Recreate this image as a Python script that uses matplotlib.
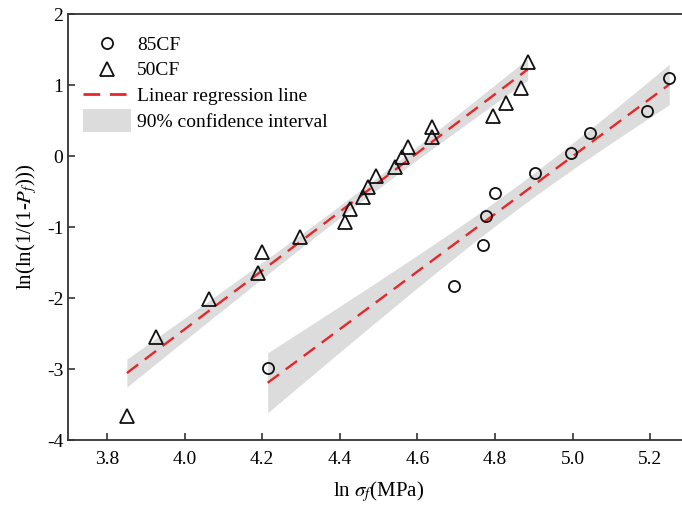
import numpy as np
import matplotlib
matplotlib.use('Agg')
import matplotlib.pyplot as plt
from matplotlib.patches import Rectangle
from matplotlib.legend_handler import HandlerPatch

plt.rcParams['font.family'] = 'Liberation Serif'
plt.rcParams['mathtext.fontset'] = 'stix'
plt.rcParams['font.size'] = 14
plt.rcParams['axes.unicode_minus'] = False

# ln(sigma_f) y ln(ln(1/(1-Pf)))
x_85cf = [4.214, 4.693, 4.768, 4.776, 4.801, 4.902, 4.995, 5.044, 5.191, 5.249]
y_85cf = [-2.986, -1.827, -1.254, -0.841, -0.521, -0.231, 0.042, 0.324, 0.638, 1.099]

x_50cf = [3.851, 3.926, 4.062, 4.190, 4.200, 4.298, 4.414, 4.425, 4.459, 4.472,
          4.492, 4.541, 4.559, 4.576, 4.637, 4.637, 4.795, 4.827, 4.868, 4.884]
y_50cf = [-3.667, -2.549, -2.006, -1.639, -1.348, -1.132, -0.925, -0.746, -0.577, -0.428,
          -0.277, -0.146, -0.006, 0.127, 0.268, 0.408, 0.568, 0.755, 0.966, 1.324]

# cuantiles t de Student (dos colas, 90%) para n-2 grados de libertad
t_90 = {8: 1.860, 18: 1.734}

red = '#e8262a'
band_color = '#dcdcdc'


def fit_band(x, y):
  x = np.asarray(x)
  y = np.asarray(y)
  n = len(x)
  b, a = np.polyfit(x, y, 1)
  resid = y - (a + b * x)
  s = np.sqrt(np.sum(resid ** 2) / (n - 2))
  sxx = np.sum((x - x.mean()) ** 2)
  xs = np.linspace(x.min(), x.max(), 100)
  ys = a + b * xs
  half = t_90[n - 2] * s * np.sqrt(1 / n + (xs - x.mean()) ** 2 / sxx)
  return xs, ys, half


fig = plt.figure(figsize=(6.82, 5.2), dpi=100)
ax = fig.add_axes([0.1001, 0.1538, 0.9102, 0.8187])

for x, y in [(x_85cf, y_85cf), (x_50cf, y_50cf)]:
  xs, ys, half = fit_band(x, y)
  ax.fill_between(xs, ys - half, ys + half, color=band_color, lw=0, zorder=1)
  ax.plot(xs, ys, color=red, lw=1.7, dashes=(6, 3.5), zorder=2)

ax.plot(x_85cf, y_85cf, 'o', ms=8, mfc='none', mec='#111111', mew=1.3, zorder=3)
ax.plot(x_50cf, y_50cf, '^', ms=9.5, mfc='none', mec='#111111', mew=1.3, zorder=3)

ax.set_xlim(3.7, 5.3)
ax.set_ylim(-4, 2)
ax.set_xticks([3.8, 4.0, 4.2, 4.4, 4.6, 4.8, 5.0, 5.2])
ax.set_yticks([-4, -3, -2, -1, 0, 1, 2])
ax.xaxis.set_major_formatter(plt.FormatStrFormatter('%.1f'))
ax.tick_params(direction='in', length=5, width=1.2, color='#333333', labelsize=14)
ax.tick_params(axis='x', pad=8)
for sp in ax.spines.values():
  sp.set_linewidth(1.3)
  sp.set_color('#333333')

ax.set_xlabel(r'ln $\sigma_f$(MPa)', fontsize=15, labelpad=8)
ax.set_ylabel(r'ln(ln(1/(1-$P_f$)))', fontsize=15, labelpad=6)

# leyenda
h_85 = plt.Line2D([], [], ls='none', marker='o', ms=8, mfc='none', mec='#111111', mew=1.3)
h_50 = plt.Line2D([], [], ls='none', marker='^', ms=9.5, mfc='none', mec='#111111', mew=1.3)
h_line = plt.Line2D([], [], color=red, lw=2, dashes=(6, 3.5))
h_band = Rectangle((0, 0), 1, 1, color=band_color, lw=0)


def tall_patch(legend, orig_handle, xdescent, ydescent, width, height, fontsize):
  return Rectangle((-xdescent, -ydescent - 0.35 * height), width, height * 1.7)


ax.legend([h_85, h_50, h_line, h_band],
          ['85CF', '50CF', 'Linear regression line', '90% confidence interval'],
          loc='upper left', bbox_to_anchor=(-0.005, 0.99), frameon=False,
          handlelength=2.5, handletextpad=0.3, labelspacing=0.42, fontsize=14,
          handler_map={Rectangle: HandlerPatch(patch_func=tall_patch)})

plt.savefig('out.png', dpi=100)
